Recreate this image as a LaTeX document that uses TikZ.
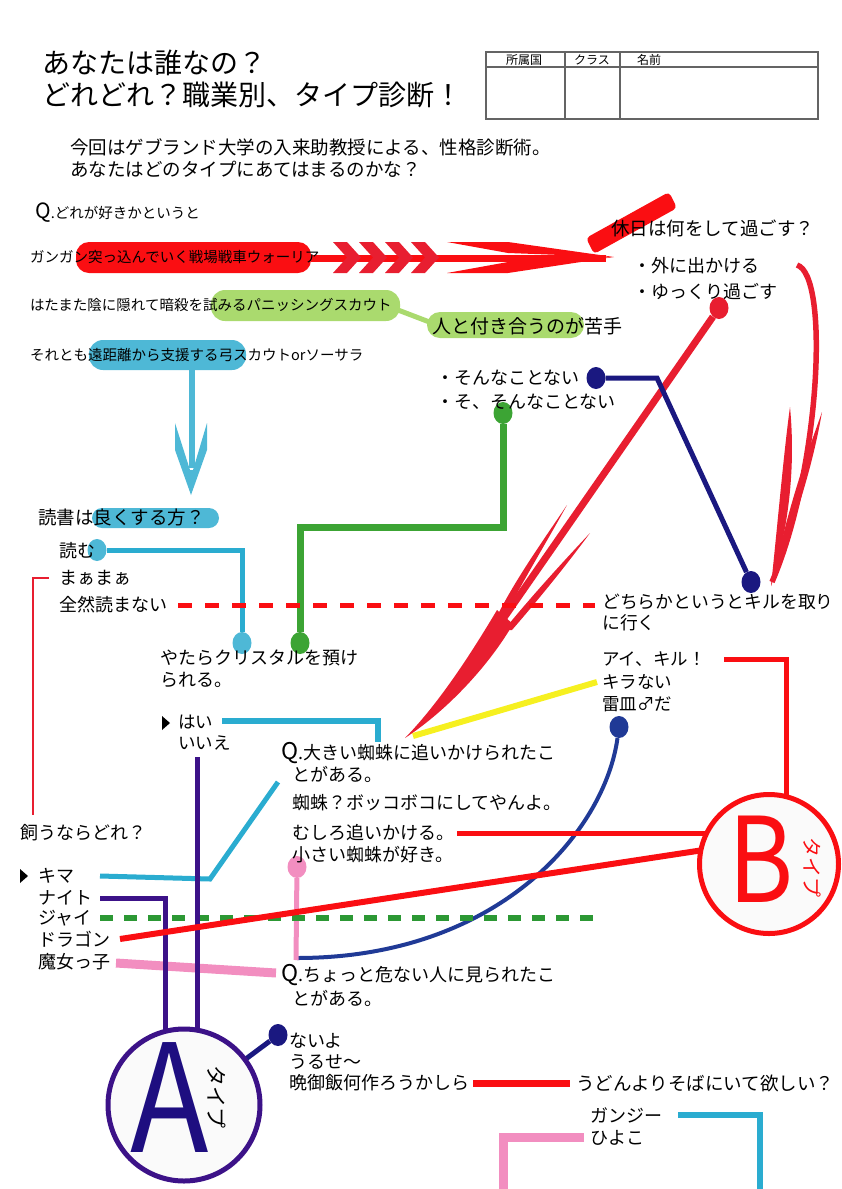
\documentclass[tikz,border=0pt]{standalone}
\usepackage{fontspec}
\setmainfont{Noto Sans CJK JP}
\usetikzlibrary{shapes}

\definecolor{hotred}{RGB}{250,14,18}
\definecolor{crimson}{RGB}{232,30,48}
\definecolor{pillgreen}{RGB}{170,218,110}
\definecolor{linegreen}{RGB}{60,164,52}
\definecolor{dashgreen}{RGB}{44,152,52}
\definecolor{pillblue}{RGB}{78,184,214}
\definecolor{cyanline}{RGB}{42,172,208}
\definecolor{navy}{RGB}{26,24,128}
\definecolor{royal}{RGB}{32,58,150}
\definecolor{grape}{RGB}{60,18,136}
\definecolor{inkA}{RGB}{30,14,128}
\definecolor{rosy}{RGB}{242,142,192}
\definecolor{lemon}{RGB}{246,240,32}
\definecolor{tablegray}{RGB}{100,100,100}
\definecolor{paper}{RGB}{250,250,250}

\newcommand\bigQ{{\fontsize{23}{23}\selectfont Q}}

\begin{document}
\begin{tikzpicture}[x=1pt,y=-1pt,
  txt/.style={anchor=west,inner sep=0pt,align=left,font=\fontsize{18}{22}\selectfont},
  opt/.style={anchor=west,inner sep=0pt,font=\fontsize{14.5}{16}\selectfont},
  head/.style={inner sep=0pt,font=\fontsize{12}{12}\selectfont},
  dot/.style={ellipse,fill=#1,inner sep=0pt,minimum width=19pt,minimum height=22pt},
  typering/.style={circle,draw=#1,line width=5pt,fill=paper,inner sep=0pt},
  bigletter/.style={inner sep=0pt,font=\fontsize{#1}{#1}\selectfont}]
\useasboundingbox (0,0) rectangle (842,1189);

% title and table
\node[anchor=west,inner sep=0pt,align=left,font=\fontsize{28}{32}\selectfont] (title) at (42,79) {あなたは誰なの？\\どれどれ？職業別、タイプ診断！};
\draw[tablegray,line width=1.5pt] (486,52) rectangle (818,119) (486,67) -- (818,67) (565,52) -- (565,119) (620,52) -- (620,119);
\node[head] (shozoku) at (524,60) {所属国};
\node[head] (kurasu) at (592,60) {クラス};
\node[head,anchor=west] (namae) at (637,60) {名前};
\node[txt,font=\fontsize{18.5}{21.5}\selectfont] (intro) at (70,158) {今回はゲブランド大学の入来助教授による、性格診断術。\\あなたはどのタイプにあてはまるのかな？};

% pills
\fill[hotred,rounded corners=13pt] (76,242) rectangle (311,273);
\fill[pillgreen,rounded corners=14pt] (211,290) rectangle (400,321);
\fill[pillgreen,rounded corners=13pt] (427,312) rectangle (584,338);
\fill[pillblue,rounded corners=14pt] (89,340) rectangle (246,370);
\fill[pillblue,rounded corners=10pt] (92,508) rectangle (219,528);

% ends of connectors
\coordinate (warrior) at (311,258);
\coordinate (holidayTip) at (606,258);
\coordinate (scoutEnd) at (398,310);
\coordinate (nigateEnd) at (432,323);
\coordinate (archerEnd) at (192,370);
\coordinate (archerTip) at (192,468);
\coordinate (outCurve) at (797,265);
\coordinate (noBend) at (657,378);
\coordinate (greenBendA) at (503,527);
\coordinate (greenBendB) at (300,527);
\coordinate (readBend) at (242,550);
\coordinate (zenzenEnd) at (178,605);
\coordinate (killEnd) at (595,605);
\coordinate (maamaaEnd) at (49,578);
\coordinate (maamaaBend) at (33,578);
\coordinate (kauEnd) at (33,815);
\coordinate (haiEnd) at (222,721);
\coordinate (haiBend) at (378,721);
\coordinate (spiderTop) at (378,742);
\coordinate (iieEnd) at (197,757);
\coordinate (spiderEnd) at (278,782);
\coordinate (kimaBend) at (210,879);
\coordinate (kimaEnd) at (100,876);
\coordinate (naitoEnd) at (100,898);
\coordinate (naitoBend) at (165,898);
\coordinate (jaiEnd) at (100,918);
\coordinate (jaiFar) at (595,918);
\coordinate (doraEnd) at (120,939);
\coordinate (majoEnd) at (116,963);
\coordinate (dangerEnd) at (276,973);
\coordinate (dangerTop) at (296,960);
\coordinate (curveEnd) at (297,958);
\coordinate (mushiroEnd) at (457,833);
\coordinate (aiEnd) at (724,659);
\coordinate (aiBend) at (786,659);
\coordinate (kiraEnd) at (597,682);
\coordinate (yellowTip) at (413,736);
\coordinate (bangohanEnd) at (473,1083);
\coordinate (udonEnd) at (570,1083);
\coordinate (ganjiEnd) at (678,1115);
\coordinate (ganjiBend) at (760,1115);
\coordinate (ganjiOut) at (760,1189);
\coordinate (hiyokoEnd) at (584,1137);
\coordinate (hiyokoBend) at (503,1137);
\coordinate (hiyokoOut) at (503,1189);
\coordinate (Acenter) at (184,1105);
\coordinate (Bcenter) at (769,864);
\coordinate (Bmushiro) at (712,833);
\coordinate (Bdora) at (710,849);
\coordinate (Btop) at (786,810);

% dots
\node[dot=crimson] (outDot) at (719,308) {};
\node[dot=navy] (noDot) at (596,378) {};
\node[dot=linegreen] (noNoDot) at (503,413) {};
\node[dot=navy] (killDot) at (751,582) {};
\node[dot=pillblue] (readDot) at (97,550) {};
\node[dot=pillblue] (crystalDotA) at (242,643) {};
\node[dot=linegreen] (crystalDotB) at (300,643) {};
\node[dot=royal] (raraDot) at (619,727) {};
\node[dot=rosy] (smallDot) at (297,867) {};
\node[dot=navy] (naiyoDot) at (278,1035) {};

% warrior arrow
\draw[hotred,line width=7pt] (warrior) -- (holidayTip);
\fill[crimson] (333,242) -- ++(14,0) -- ++(14,15.5) -- ++(-14,15.5) -- ++(-14,0) -- ++(14,-15.5) -- cycle
  (359,242) -- ++(14,0) -- ++(14,15.5) -- ++(-14,15.5) -- ++(-14,0) -- ++(14,-15.5) -- cycle
  (385,242) -- ++(14,0) -- ++(14,15.5) -- ++(-14,15.5) -- ++(-14,0) -- ++(14,-15.5) -- cycle
  (411,242) -- ++(14,0) -- ++(14,15.5) -- ++(-14,15.5) -- ++(-14,0) -- ++(14,-15.5) -- cycle;
\fill[hotred] (447,242) -- (508,242) -- (614,257) -- (508,253) -- cycle
  (447,273) -- (508,273) -- (614,257) -- (508,262) -- cycle;
\fill[hotred,rounded corners=4pt] (594,254) -- (586,238) -- (669,192) -- (677,208) -- cycle;

% scout and archer
\draw[pillgreen,line width=5pt] (scoutEnd) -- (nigateEnd);
\draw[pillblue,line width=6pt] (archerEnd) -- (archerTip);
\fill[pillblue] (175,423) -- (175,450) -- (191,495) -- (207,450) -- (207,423) -- (193,470) -- (190,470) -- cycle;

% holiday arrows
\draw[crimson,line width=5.5pt] (outCurve) .. controls (830,275) and (820,470) .. (772,582);
\fill[crimson] (790,407) .. controls (784,450) and (778,520) .. (771,586) .. controls (788,530) and (796,470) .. (790,407) -- cycle;
\fill[crimson] (822,412) .. controls (805,460) and (790,500) .. (771,586) .. controls (795,520) and (812,470) .. (822,412) -- cycle;
\draw[crimson,line width=7pt] (outDot) -- (501,622);
\fill[crimson] (567,505) .. controls (540,545) and (515,580) .. (495,620) -- (502,622) .. controls (522,582) and (545,545) .. (567,505) -- cycle;
\fill[crimson] (590,533) .. controls (560,565) and (530,598) .. (504,630) -- (512,630) .. controls (538,600) and (565,567) .. (590,533) -- cycle;
\fill[crimson] (497,610) .. controls (472,652) and (440,702) .. (405,738) .. controls (448,710) and (490,664) .. (513,624) -- cycle;
\draw[navy,line width=5pt] (noDot) -- (noBend) -- (killDot);
\draw[linegreen,line width=7pt] (noNoDot) -- (greenBendA) -- (greenBendB) -- (crystalDotB);

% reading
\draw[cyanline,line width=5pt] (readDot) -- (readBend) -- (crystalDotA);
\draw[hotred,line width=5pt,dash pattern=on 14pt off 13pt] (zenzenEnd) -- (killEnd);
\draw[crimson,line width=2.5pt] (maamaaEnd) -- (maamaaBend) -- (kauEnd);

% spider and pets
\draw[cyanline,line width=6pt] (haiEnd) -- (haiBend) -- (spiderTop);
\draw[cyanline,line width=5pt] (spiderEnd) -- (kimaBend) -- (kimaEnd);
\draw[lemon,line width=6pt] (kiraEnd) -- (yellowTip);
\draw[royal,line width=4pt] (raraDot) .. controls (605,830) and (500,958) .. (curveEnd);
\draw[rosy,line width=5pt] (smallDot) -- (dangerTop);
\draw[rosy,line width=9pt] (majoEnd) -- (dangerEnd);
\draw[dashgreen,line width=6pt,dash pattern=on 13pt off 11pt] (jaiEnd) -- (jaiFar);
\draw[grape,line width=5pt] (iieEnd) -- (197,1060);
\draw[grape,line width=5pt] (naitoEnd) -- (naitoBend) -- (165,1060);
\draw[hotred,line width=5pt] (mushiroEnd) -- (Bmushiro);
\draw[hotred,line width=6pt] (doraEnd) -- (Bdora);
\draw[hotred,line width=5pt] (aiEnd) -- (aiBend) -- (Btop);
\draw[navy,line width=5pt] (naiyoDot) -- (Acenter);

% bottom
\draw[hotred,line width=7pt] (bangohanEnd) -- (udonEnd);
\draw[cyanline,line width=6pt] (ganjiEnd) -- (ganjiBend) -- (ganjiOut);
\draw[rosy,line width=9pt] (hiyokoEnd) -- (hiyokoBend) -- (hiyokoOut);

% type circles
\node[typering=grape,minimum size=152pt] (typeA) at (Acenter) {};
\node[bigletter=150,text=inkA] (letterA) at (170,1098) {\scalebox{0.86}[1]{A}};
\node[bigletter=21,rotate=-90] (typeAlabel) at (217,1097) {タイプ};
\node[typering=hotred,minimum size=139pt] (typeB) at (Bcenter) {};
\node[bigletter=118,text=hotred] (letterB) at (761,859) {\scalebox{0.84}[1]{B}};
\node[bigletter=20,rotate=-90,text=hotred] (typeBlabel) at (812,867) {タイプ};

% texts
\node[opt] (whichQ) at (35,213) {{\fontsize{21}{21}\selectfont Q}.どれが好きかというと};
\node[opt] (warriorText) at (30,257) {ガンガン突っ込んでいく戦場戦車ウォーリア};
\node[opt] (scoutText) at (30,305) {はたまた陰に隠れて暗殺を試みるパニッシングスカウト};
\node[opt] (archerText) at (30,355) {それとも遠距離から支援する弓スカウトorソーサラ};
\node[txt,font=\fontsize{18.5}{22}\selectfont] (holiday) at (611,228) {休日は何をして過ごす？};
\node[txt,font=\fontsize{18}{26}\selectfont] (goOut) at (633,279) {・外に出かける\\・ゆっくり過ごす};
\node[txt,font=\fontsize{19}{22}\selectfont] (nigate) at (432,326) {人と付き合うのが苦手};
\node[txt,font=\fontsize{18}{24}\selectfont] (notSo) at (436,390) {・そんなことない\\・そ、そんなことない};
\node[txt,font=\fontsize{18.5}{22}\selectfont] (reading) at (38,517) {読書は良くする方？};
\node[txt] (yomu) at (59,551) {読む};
\node[txt] (maamaa) at (59,578) {まぁまぁ};
\node[txt] (zenzen) at (59,605) {全然読まない};
\node[txt,font=\fontsize{17.8}{21}\selectfont] (kill) at (602,612) {どちらかというとキルを取り\\に行く};
\node[txt] (crystal) at (160,669) {やたらクリスタルを預け\\られる。};
\node[txt,font=\fontsize{17.5}{22.5}\selectfont] (aikiru) at (602,682) {アイ、キル！\\キラない\\雷皿♂だ};
\fill (162,716) -- (170,723) -- (162,730) -- cycle;
\node[txt,font=\fontsize{17.5}{21}\selectfont] (hai) at (178,733) {はい\\いいえ};
\node[txt] (spiderQ) at (281,753) {\bigQ.大きい蜘蛛に追いかけられたこ};
\node[txt] (spiderQb) at (292,774) {とがある。};
\node[txt] (bokoboko) at (292,803) {蜘蛛？ボッコボコにしてやんよ。};
\node[txt] (mushiro) at (292,833) {むしろ追いかける。};
\node[txt] (chiisai) at (292,855) {小さい蜘蛛が好き。};
\node[txt] (kau) at (20,833) {飼うならどれ？};
\fill (20,869) -- (28,876) -- (20,883) -- cycle;
\node[txt] (kima) at (38,876) {キマ};
\node[txt] (naito) at (38,898) {ナイト};
\node[txt] (jai) at (38,918) {ジャイ};
\node[txt] (dora) at (38,939) {ドラゴン};
\node[txt] (majo) at (38,962) {魔女っ子};
\node[txt] (dangerQ) at (281,975) {\bigQ.ちょっと危ない人に見られたこ};
\node[txt] (dangerQb) at (292,998) {とがある。};
\node[txt] (naiyo) at (289,1041) {ないよ};
\node[txt] (uruse) at (289,1062) {うるせ～};
\node[txt] (bangohan) at (289,1083) {晩御飯何作ろうかしら};
\node[txt,font=\fontsize{18.5}{22}\selectfont] (udon) at (576,1083) {うどんよりそばにいて欲しい？};
\node[txt] (ganji) at (590,1115) {ガンジー};
\node[txt] (hiyoko) at (590,1138) {ひよこ};
\end{tikzpicture}
\end{document}
